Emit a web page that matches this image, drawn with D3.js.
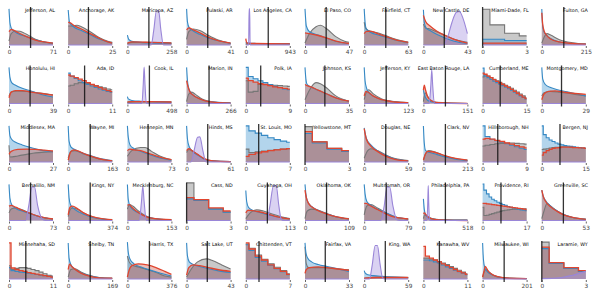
<!DOCTYPE html>
<html><head><meta charset="utf-8">
<script src="https://cdn.jsdelivr.net/npm/d3@7"></script>
<style>body{margin:0;background:#fff}svg{display:block}</style>
</head><body>
<script>
const names=["Jefferson, AL","Anchorage, AK","Maricopa, AZ","Pulaski, AR","Los Angeles, CA","El Paso, CO","Fairfield, CT","New Castle, DE","Miami-Dade, FL","Fulton, GA",
"Honolulu, HI","Ada, ID","Cook, IL","Marion, IN","Polk, IA","Johnson, KS","Jefferson, KY","East Baton Rouge, LA","Cumberland, ME","Montgomery, MD",
"Middlesex, MA","Wayne, MI","Hennepin, MN","Hinds, MS","St. Louis, MO","Yellowstone, MT","Douglas, NE","Clark, NV","Hillsborough, NH","Bergen, NJ",
"Bernalillo, NM","Kings, NY","Mecklenburg, NC","Cass, ND","Cuyahoga, OH","Oklahoma, OK","Multnomah, OR","Philadelphia, PA","Providence, RI","Greenville, SC",
"Minnehaha, SD","Shelby, TN","Harris, TX","Salt Lake, UT","Chittenden, VT","Fairfax, VA","King, WA","Kanawha, WV","Milwaukee, WI","Laramie, WY"];
const xMax=[71,25,258,41,943,47,63,43,3,215, 39,11,498,266,9,35,123,151,15,29, 27,163,73,61,7,3,59,213,9,15, 73,374,153,3,113,109,79,518,17,53, 11,169,376,43,7,33,59,11,201,3];
const vLine=[34.8,11.5,126,19.7,481,22.6,30.9,20.4,0,107.5, 18.7,4.1,249,135.7,3.05,15.8,61.5,75.5,6,13, 12.4,81.5,34.3,29.3,2.05,0,28.9,106.5,3.1,6.2, 35.8,187,76.5,0,55.4,53.4,39.5,259,7.1,26, 4.2,84.5,188,20.2,2.1,15.2,28.3,4,98.5,0];
const Z=[[0,0],[1,0]];
const grey=[
[[0,0.1],[0.05,0.3],[0.15,0.37],[0.25,0.36],[0.4,0.28],[0.6,0.15],[0.8,0.08],[1,0.04]],
[[0,0.5],[0.1,0.5],[0.2,0.52],[0.3,0.48],[0.5,0.35],[0.7,0.2],[0.9,0.1],[1,0.07]],
[[0,0.04],[0.1,0.07],[0.5,0.07],[1,0.06]],
[[0,0.15],[0.05,0.35],[0.15,0.42],[0.3,0.38],[0.5,0.25],[0.7,0.14],[1,0.05]],
[[0,0.03],[0.2,0.04],[1,0.03]],
[[0,0.05],[0.1,0.3],[0.25,0.48],[0.35,0.52],[0.5,0.42],[0.7,0.22],[0.9,0.1],[1,0.07]],
[[0,0.6],[0.03,0.45],[0.1,0.38],[0.3,0.32],[0.5,0.24],[0.7,0.16],[1,0.08]],
[[0,0.55],[0.05,0.45],[0.15,0.42],[0.3,0.35],[0.5,0.25],[0.7,0.15],[1,0.07]],
[0.94,0.53,0.31,0.24],
[[0,0.05],[0.05,0.2],[0.12,0.3],[0.2,0.26],[0.4,0.14],[0.7,0.06],[1,0.03]],
[[0,0.2],[0.05,0.3],[0.2,0.33],[0.4,0.32],[0.6,0.29],[0.8,0.26],[1,0.23]],
[0.46,0.48,0.52,0.55,0.55,0.53,0.5,0.47,0.44,0.41,0.38,0.36],
[[0,0.03],[0.2,0.05],[0.6,0.05],[1,0.04]],
[[0,0.05],[0.05,0.25],[0.12,0.3],[0.2,0.24],[0.35,0.12],[0.55,0.05],[1,0.01]],
[0.6,0.3,0.32,0.5,0.5,0.49,0.48,0.47,0.46,0.45],
[[0,0.1],[0.1,0.35],[0.25,0.55],[0.35,0.52],[0.5,0.4],[0.7,0.2],[1,0.06]],
[[0,0.1],[0.05,0.3],[0.1,0.36],[0.2,0.26],[0.4,0.12],[0.7,0.05],[1,0.02]],
[[0,0.05],[0.04,0.28],[0.08,0.22],[0.15,0.1],[0.3,0.03],[1,0]],
[0.7,0.75,0.72,0.68,0.64,0.6,0.56,0.52,0.48,0.44,0.4,0.35,0.3,0.25,0.2,0.15],
[[0,0.2],[0.05,0.28],[0.2,0.32],[0.4,0.3],[0.6,0.27],[0.8,0.23],[1,0.2]],
[[0,0.44],[0.02,0.13],[0.2,0.16],[0.4,0.2],[0.6,0.24],[0.8,0.26],[1,0.27]],
[[0,0.1],[0.06,0.28],[0.15,0.3],[0.3,0.24],[0.5,0.15],[0.7,0.08],[1,0.03]],
[[0,0.15],[0.1,0.3],[0.3,0.38],[0.4,0.38],[0.55,0.28],[0.75,0.15],[1,0.06]],
[[0,0.25],[0.05,0.33],[0.12,0.3],[0.25,0.2],[0.4,0.08],[0.6,0.03],[1,0.01]],
[0.34,0.25,0.27,0.29,0.31,0.33,0.34,0.35],
[0.93,0.53,0.36,0.29],
[[0,0.1],[0.08,0.3],[0.15,0.35],[0.3,0.3],[0.5,0.18],[0.7,0.09],[1,0.04]],
[[0,0.05],[0.05,0.22],[0.12,0.3],[0.25,0.27],[0.45,0.18],[0.7,0.1],[1,0.05]],
[0.42,0.44,0.46,0.48,0.49,0.5,0.5,0.49,0.48,0.47],
[0.33,0.34,0.35,0.37,0.38,0.39,0.39,0.4,0.4,0.4,0.39,0.39,0.38,0.38,0.37,0.37],
[[0,0.2],[0.05,0.3],[0.15,0.33],[0.3,0.28],[0.5,0.18],[0.7,0.1],[1,0.04]],
[[0,0.1],[0.05,0.3],[0.1,0.33],[0.2,0.3],[0.35,0.2],[0.55,0.1],[1,0.02]],
[[0,0.3],[0.05,0.42],[0.12,0.38],[0.25,0.25],[0.4,0.13],[0.6,0.05],[1,0.02]],
[0.99,0.55,0.31,0.22],
[[0,0.05],[0.1,0.2],[0.25,0.28],[0.4,0.25],[0.6,0.17],[0.8,0.1],[1,0.05]],
[[0,0.05],[0.05,0.25],[0.15,0.3],[0.3,0.27],[0.5,0.18],[0.7,0.1],[1,0.05]],
[[0,0.15],[0.06,0.38],[0.15,0.42],[0.3,0.33],[0.5,0.2],[0.7,0.1],[1,0.04]],
[[0,0.05],[0.03,0.15],[0.08,0.12],[0.2,0.05],[0.4,0.02],[1,0.01]],
[0.35,0.13,0.14,0.16,0.18,0.2,0.22,0.24,0.26,0.27,0.28,0.29,0.3,0.3,0.31,0.31,0.31,0.31],
[[0,0.05],[0.05,0.25],[0.12,0.45],[0.2,0.38],[0.35,0.25],[0.5,0.15],[0.7,0.08],[1,0.04]],
[0.35,0.25,0.28,0.3,0.3,0.28,0.25,0.22,0.18,0.14,0.1,0.08],
[[0,0.05],[0.06,0.25],[0.15,0.27],[0.3,0.18],[0.5,0.09],[0.7,0.04],[1,0.02]],
[[0,0.6],[0.04,0.45],[0.1,0.37],[0.3,0.3],[0.5,0.23],[0.7,0.15],[0.85,0.08],[1,0.05]],
[[0,0.05],[0.1,0.25],[0.25,0.45],[0.45,0.53],[0.6,0.48],[0.8,0.37],[1,0.26]],
[0.92,0.81,0.63,0.52,0.4,0.31,0.22,0.14],
[[0,0.85],[0.03,0.4],[0.08,0.3],[0.2,0.3],[0.4,0.3],[0.6,0.28],[0.8,0.26],[1,0.24]],
[[0,0.02],[0.3,0.05],[1,0.04]],
[0.55,0.55,0.52,0.5,0.46,0.42,0.38,0.33,0.28,0.23,0.18,0.14],
[[0,0.05],[0.04,0.2],[0.08,0.25],[0.15,0.18],[0.25,0.1],[0.4,0.04],[1,0.01]],
[0.97,0.42,0.29,0.2]];
const blue=[
[[0,0.95],[0.02,0.6],[0.05,0.45],[0.1,0.38],[0.2,0.3],[0.4,0.22],[0.6,0.14],[0.8,0.08],[1,0.05]],
[[0,0.92],[0.03,0.6],[0.1,0.5],[0.3,0.38],[0.5,0.27],[0.7,0.16],[0.9,0.08],[1,0.05]],
[[0,0.26],[0.03,0.15],[0.1,0.1],[0.3,0.07],[0.6,0.05],[1,0.04]],
[[0,0.95],[0.02,0.6],[0.06,0.45],[0.15,0.37],[0.3,0.28],[0.5,0.18],[0.7,0.12],[1,0.04]],
[[0,0.08],[0.05,0.05],[0.3,0.04],[1,0.03]],
[[0,0.95],[0.03,0.5],[0.1,0.35],[0.3,0.26],[0.5,0.18],[0.7,0.1],[1,0.04]],
[[0,0.95],[0.02,0.6],[0.05,0.42],[0.15,0.33],[0.3,0.27],[0.5,0.2],[0.7,0.13],[1,0.06]],
[[0,0.93],[0.02,0.6],[0.06,0.45],[0.15,0.38],[0.3,0.28],[0.5,0.18],[0.7,0.1],[1,0.04]],
[0.15,0.15,0.12,0.12],
[[0,0.95],[0.02,0.5],[0.05,0.35],[0.1,0.27],[0.2,0.17],[0.4,0.08],[0.7,0.04],[1,0.02]],
[[0,0.95],[0.02,0.7],[0.06,0.55],[0.15,0.48],[0.3,0.4],[0.5,0.33],[0.7,0.25],[1,0.17]],
[0.8,0.72,0.66,0.6,0.55,0.5,0.46,0.42,0.38,0.35,0.32,0.3],
[[0,0.18],[0.02,0.12],[0.1,0.08],[0.3,0.06],[0.6,0.05],[1,0.04]],
[[0,0.95],[0.02,0.6],[0.05,0.4],[0.1,0.28],[0.2,0.18],[0.4,0.08],[0.7,0.03],[1,0.02]],
[0.95,0.71,0.65,0.6,0.55,0.5,0.45,0.42,0.38,0.36],
[[0,0.95],[0.02,0.65],[0.05,0.5],[0.15,0.43],[0.3,0.35],[0.5,0.25],[0.7,0.15],[1,0.06]],
[[0,0.95],[0.02,0.6],[0.05,0.42],[0.1,0.3],[0.2,0.2],[0.4,0.1],[0.7,0.04],[1,0.02]],
[[0,0.35],[0.02,0.25],[0.05,0.15],[0.1,0.08],[0.2,0.04],[0.4,0.01],[1,0]],
[0.93,0.72,0.68,0.63,0.59,0.55,0.51,0.47,0.43,0.39,0.35,0.3,0.25,0.2,0.16,0.12],
[[0,0.95],[0.02,0.65],[0.08,0.5],[0.2,0.42],[0.4,0.35],[0.6,0.3],[0.8,0.25],[1,0.2]],
[[0,0.95],[0.02,0.7],[0.06,0.6],[0.15,0.52],[0.3,0.45],[0.5,0.38],[0.7,0.32],[1,0.27]],
[[0,0.95],[0.02,0.55],[0.06,0.4],[0.15,0.33],[0.3,0.25],[0.5,0.17],[0.7,0.1],[1,0.04]],
[[0,0.95],[0.02,0.65],[0.06,0.45],[0.15,0.35],[0.3,0.28],[0.5,0.2],[0.7,0.12],[1,0.05]],
[[0,0.95],[0.02,0.6],[0.06,0.4],[0.12,0.3],[0.25,0.18],[0.4,0.08],[0.6,0.03],[1,0.01]],
[0.95,0.82,0.76,0.7,0.64,0.59,0.55,0.52],
[0.75,0.5,0.34,0.28],
[[0,0.9],[0.05,0.62],[0.15,0.45],[0.3,0.3],[0.5,0.17],[0.7,0.08],[1,0.03]],
[[0,0.95],[0.02,0.5],[0.05,0.3],[0.15,0.25],[0.3,0.2],[0.5,0.13],[0.7,0.08],[1,0.04]],
[0.95,0.67,0.6,0.56,0.52,0.48,0.44,0.4,0.36,0.33],
[0.95,0.72,0.64,0.58,0.54,0.5,0.47,0.45,0.43,0.42,0.41,0.4,0.39,0.38,0.37,0.36],
[[0,0.95],[0.02,0.6],[0.06,0.42],[0.15,0.32],[0.3,0.25],[0.5,0.17],[0.7,0.1],[1,0.04]],
[[0,0.95],[0.02,0.6],[0.05,0.42],[0.12,0.32],[0.25,0.22],[0.45,0.12],[0.7,0.05],[1,0.02]],
[[0,0.95],[0.02,0.55],[0.06,0.38],[0.15,0.27],[0.3,0.17],[0.5,0.08],[0.7,0.04],[1,0.02]],
[0.57,0.53,0.3,0.22],
[[0,0.79],[0.02,0.5],[0.06,0.35],[0.15,0.27],[0.3,0.22],[0.5,0.15],[0.7,0.1],[1,0.04]],
[[0,0.95],[0.02,0.7],[0.06,0.5],[0.15,0.37],[0.3,0.27],[0.5,0.17],[0.7,0.1],[1,0.04]],
[[0,0.95],[0.02,0.7],[0.06,0.5],[0.15,0.4],[0.3,0.3],[0.5,0.2],[0.7,0.1],[1,0.04]],
[[0,0.57],[0.02,0.3],[0.05,0.15],[0.1,0.08],[0.2,0.04],[0.4,0.02],[1,0.01]],
[0.96,0.8,0.7,0.62,0.56,0.52,0.48,0.45,0.42,0.4,0.37,0.35,0.33,0.31,0.3,0.28,0.27,0.26],
[[0,0.8],[0.03,0.65],[0.1,0.5],[0.2,0.38],[0.35,0.25],[0.5,0.16],[0.7,0.08],[1,0.03]],
[0.3,0.22,0.2,0.18,0.17,0.15,0.14,0.12,0.1,0.09,0.07,0.06],
[[0,0.95],[0.02,0.55],[0.06,0.38],[0.15,0.26],[0.3,0.16],[0.5,0.08],[0.7,0.04],[1,0.02]],
[[0,0.97],[0.02,0.7],[0.06,0.52],[0.15,0.4],[0.3,0.32],[0.5,0.24],[0.7,0.17],[1,0.08]],
[[0,0.95],[0.02,0.6],[0.06,0.45],[0.15,0.38],[0.3,0.33],[0.5,0.27],[0.7,0.22],[1,0.17]],
[0.9,0.75,0.57,0.47,0.36,0.27,0.19,0.11],
[[0,0.95],[0.02,0.7],[0.06,0.55],[0.15,0.45],[0.3,0.38],[0.5,0.33],[0.7,0.28],[1,0.2]],
[[0,0.22],[0.02,0.16],[0.08,0.11],[0.2,0.09],[0.4,0.07],[0.7,0.05],[1,0.04]],
[0.5,0.5,0.48,0.45,0.42,0.37,0.32,0.28,0.23,0.19,0.15,0.11],
[[0,0.95],[0.02,0.5],[0.05,0.3],[0.1,0.2],[0.2,0.12],[0.35,0.06],[0.6,0.02],[1,0.01]],
[0.8,0.41,0.28,0.2]];
const red=[
[[0,0.35],[0.05,0.41],[0.1,0.39],[0.2,0.33],[0.4,0.22],[0.6,0.13],[0.8,0.08],[1,0.05]],
[[0,0.6],[0.05,0.58],[0.15,0.5],[0.3,0.42],[0.5,0.3],[0.7,0.18],[0.9,0.08],[1,0.05]],
[[0,0.05],[0.1,0.08],[0.5,0.07],[1,0.05]],
[[0,0.4],[0.05,0.45],[0.15,0.4],[0.3,0.32],[0.5,0.2],[0.7,0.12],[1,0.05]],
[[0,0.17],[0.01,0.1],[0.03,0.05],[0.2,0.04],[1,0.03]],
[[0,0.32],[0.1,0.3],[0.3,0.25],[0.5,0.18],[0.7,0.1],[1,0.04]],
[[0,0.3],[0.05,0.36],[0.15,0.36],[0.3,0.3],[0.5,0.22],[0.7,0.14],[1,0.07]],
[[0,0.78],[0.05,0.62],[0.15,0.5],[0.3,0.37],[0.5,0.25],[0.7,0.15],[1,0.05]],
[0.05,0.05,0.05,0.05],
[[0,0.85],[0.02,0.55],[0.05,0.38],[0.1,0.27],[0.2,0.16],[0.4,0.08],[0.7,0.04],[1,0.02]],
[[0,0.15],[0.05,0.3],[0.15,0.34],[0.3,0.34],[0.5,0.3],[0.7,0.27],[1,0.22]],
[0.75,0.72,0.68,0.64,0.6,0.55,0.5,0.46,0.42,0.38,0.34,0.31],
[[0,0.04],[0.1,0.05],[0.5,0.05],[1,0.04]],
[[0,0.6],[0.03,0.45],[0.08,0.3],[0.15,0.22],[0.3,0.12],[0.5,0.05],[1,0.01]],
[0.67,0.6,0.56,0.52,0.5,0.47,0.44,0.42,0.4,0.38],
[[0,0.5],[0.05,0.47],[0.15,0.43],[0.3,0.35],[0.5,0.25],[0.7,0.15],[1,0.06]],
[[0,0.2],[0.04,0.32],[0.1,0.29],[0.2,0.2],[0.4,0.1],[0.7,0.04],[1,0.02]],
[[0,0.35],[0.02,0.48],[0.05,0.35],[0.1,0.17],[0.2,0.06],[0.35,0.02],[1,0]],
[0.8,0.77,0.72,0.68,0.63,0.58,0.54,0.5,0.46,0.42,0.37,0.32,0.27,0.22,0.17,0.13],
[[0,0.1],[0.05,0.25],[0.15,0.32],[0.3,0.33],[0.5,0.3],[0.7,0.27],[1,0.24]],
[[0,0.2],[0.05,0.28],[0.2,0.33],[0.4,0.34],[0.6,0.33],[0.8,0.31],[1,0.29]],
[[0,0.05],[0.05,0.25],[0.12,0.32],[0.2,0.3],[0.4,0.2],[0.6,0.12],[0.8,0.06],[1,0.03]],
[[0,0.3],[0.05,0.34],[0.15,0.32],[0.3,0.3],[0.5,0.22],[0.7,0.14],[1,0.06]],
[[0,0.3],[0.05,0.35],[0.12,0.3],[0.25,0.2],[0.4,0.09],[0.6,0.03],[1,0.01]],
[0.15,0.2,0.24,0.27,0.3,0.32,0.34,0.35],
[0.8,0.53,0.36,0.3],
[[0,0.88],[0.05,0.6],[0.15,0.42],[0.3,0.28],[0.5,0.15],[0.7,0.07],[1,0.03]],
[[0,0.05],[0.04,0.2],[0.1,0.28],[0.2,0.27],[0.4,0.2],[0.6,0.13],[0.8,0.08],[1,0.05]],
[0.6,0.62,0.6,0.57,0.54,0.5,0.47,0.43,0.4,0.37],
[0.18,0.25,0.3,0.33,0.36,0.37,0.38,0.39,0.39,0.39,0.39,0.38,0.38,0.37,0.37,0.36],
[[0,0.38],[0.05,0.4],[0.15,0.35],[0.3,0.27],[0.5,0.18],[0.7,0.1],[1,0.04]],
[[0,0.15],[0.04,0.35],[0.1,0.38],[0.2,0.32],[0.35,0.2],[0.55,0.1],[0.8,0.04],[1,0.02]],
[[0,0.4],[0.04,0.42],[0.1,0.35],[0.2,0.25],[0.35,0.14],[0.55,0.06],[1,0.02]],
[0.6,0.55,0.33,0.25],
[[0,0.2],[0.05,0.27],[0.15,0.26],[0.3,0.23],[0.5,0.17],[0.7,0.1],[1,0.04]],
[[0,0.8],[0.03,0.6],[0.08,0.45],[0.15,0.36],[0.3,0.26],[0.5,0.17],[0.7,0.1],[1,0.04]],
[[0,0.45],[0.04,0.45],[0.12,0.4],[0.25,0.32],[0.45,0.2],[0.65,0.1],[1,0.04]],
[[0,0.18],[0.02,0.2],[0.06,0.15],[0.12,0.08],[0.25,0.03],[0.5,0.01],[1,0]],
[0.45,0.45,0.44,0.43,0.42,0.41,0.4,0.39,0.38,0.37,0.36,0.35,0.34,0.33,0.32,0.31,0.3,0.29],
[[0,0.8],[0.03,0.65],[0.1,0.48],[0.2,0.36],[0.35,0.24],[0.5,0.15],[0.7,0.08],[1,0.03]],
[0.95,0.29,0.25,0.22,0.2,0.17,0.15,0.13,0.11,0.09,0.07,0.05],
[[0,0.25],[0.03,0.39],[0.08,0.33],[0.15,0.26],[0.3,0.15],[0.5,0.07],[0.7,0.03],[1,0.02]],
[[0,0.05],[0.03,0.2],[0.1,0.35],[0.25,0.4],[0.45,0.37],[0.65,0.3],[0.85,0.2],[1,0.12]],
[[0,0.1],[0.05,0.3],[0.15,0.37],[0.3,0.35],[0.5,0.3],[0.7,0.25],[1,0.2]],
[0.95,0.79,0.6,0.5,0.37,0.28,0.2,0.12],
[[0,0.15],[0.03,0.25],[0.1,0.3],[0.3,0.32],[0.5,0.3],[0.7,0.27],[1,0.23]],
[[0,0.02],[0.3,0.04],[1,0.04]],
[0.86,0.6,0.55,0.5,0.45,0.4,0.35,0.3,0.25,0.2,0.16,0.12],
[[0,0.05],[0.03,0.2],[0.06,0.33],[0.12,0.22],[0.2,0.13],[0.35,0.06],[0.6,0.02],[1,0.01]],
[0.84,0.43,0.3,0.22]];
const purple=[
Z,Z,[[0,0],[0.54,0],[0.6,0.4],[0.66,0.9],[0.71,0.9],[0.76,0.4],[0.82,0],[1,0]],Z,
[[0,0],[0.065,0],[0.075,0.95],[0.088,0.95],[0.098,0],[1,0]],Z,Z,
[[0,0],[0.45,0],[0.55,0.2],[0.65,0.6],[0.75,0.86],[0.82,0.88],[0.9,0.7],[1,0.3]],Z,Z,
Z,Z,[[0,0],[0.33,0],[0.36,0.5],[0.38,0.96],[0.4,0.5],[0.43,0],[1,0]],Z,Z,Z,Z,
[[0,0],[0.13,0],[0.17,0.5],[0.19,0.89],[0.21,0.5],[0.25,0],[1,0]],Z,Z,
Z,Z,Z,[[0,0],[0.1,0],[0.17,0.3],[0.25,0.65],[0.3,0.66],[0.37,0.3],[0.44,0],[1,0]],Z,Z,Z,Z,Z,Z,
[[0,0],[0.38,0],[0.45,0.4],[0.52,0.88],[0.58,0.88],[0.65,0.4],[0.75,0.05],[0.82,0],[1,0]],Z,
[[0,0],[0.27,0],[0.32,0.5],[0.35,0.9],[0.38,0.5],[0.43,0],[1,0]],Z,
[[0,0],[0.48,0],[0.55,0.4],[0.63,0.92],[0.69,0.92],[0.75,0.4],[0.8,0.05],[0.85,0],[1,0]],Z,
[[0,0],[0.38,0],[0.45,0.35],[0.52,0.88],[0.58,0.88],[0.65,0.4],[0.74,0.02],[0.8,0],[1,0]],
[[0,0],[0.08,0],[0.1,0.5],[0.11,0.92],[0.12,0.5],[0.14,0],[1,0]],Z,Z,
Z,Z,Z,Z,Z,Z,
[[0,0],[0.12,0],[0.18,0.35],[0.25,0.88],[0.3,0.88],[0.36,0.4],[0.42,0.02],[0.48,0],[1,0]],Z,Z,
[[0,0.01],[0.4,0.03],[0.7,0.1],[1,0.2]]];

const W=598,H=299;
const svg=d3.select("body").append("svg").attr("width",W).attr("height",H);
const colX0=9, colStep=59.2, pw=44, row0=45, rowStep=58.5, ph=38;
const styles=[
 {data:grey,stroke:"#767676",fill:"#888888",op:0.45,sw:1.1},
 {data:blue,stroke:"#3789c4",fill:"#4a9bd2",op:0.42,sw:1.1},
 {data:red,stroke:"#e0452f",fill:"#d0594a",op:0.4,sw:1.3},
 {data:purple,stroke:"#9a86d8",fill:"#a793e0",op:0.42,sw:1.1}];
names.forEach((name,i)=>{
  const c=i%10, r=Math.floor(i/10);
  const g=svg.append("g").attr("transform",`translate(${colX0+c*colStep},${row0+r*rowStep})`);
  const x=d3.scaleLinear().domain([0,xMax[i]]).range([0,pw]);
  const y=d3.scaleLinear().domain([0,1]).range([0,-ph]);
  const built=styles.map(s=>{
    const d=s.data[i];
    let pts,curve;
    if(typeof d[0]==="number"){
      pts=d.map((v,k)=>[Math.max(0,k-0.5),v]);
      pts.push([xMax[i],d[d.length-1]]);
      curve=d3.curveStepAfter;
    } else {
      pts=d.map(p=>[p[0]*xMax[i],p[1]]);
      curve=d3.curveMonotoneX;
    }
    return {s,pts,curve};
  });
  built.forEach(b=>{
    const area=d3.area().x(p=>x(p[0])).y0(y(0)).y1(p=>y(p[1])).curve(b.curve);
    g.append("path").attr("d",area(b.pts)).attr("fill",b.s.fill).attr("fill-opacity",b.s.op);
  });
  built.forEach(b=>{
    const line=d3.line().x(p=>x(p[0])).y(p=>y(p[1])).curve(b.curve);
    g.append("path").attr("d",line(b.pts)).attr("fill","none").attr("stroke",b.s.stroke).attr("stroke-width",b.s.sw);
  });
  g.append("line").attr("x1",x(vLine[i])).attr("x2",x(vLine[i])).attr("y1",3).attr("y2",-ph)
    .attr("stroke","#111").attr("stroke-opacity",0.85).attr("stroke-width",1.3);
  const ax=g.append("g").attr("transform","translate(0,1)")
    .call(d3.axisBottom(x).tickValues([0,xMax[i]]).tickSize(2).tickPadding(2).tickFormat(d3.format("d")));
  ax.select(".domain").remove();
  ax.selectAll("line").attr("stroke","#666");
  ax.selectAll("text").attr("fill","#444").style("font-size","5.8px").style("font-family","DejaVu Sans");
  g.append("text").attr("x",pw+2).attr("y",-33.5).attr("text-anchor","end")
    .style("font-size","4.8px").style("font-family","DejaVu Sans").attr("fill","#000").text(name);
});
</script>
</body></html>
